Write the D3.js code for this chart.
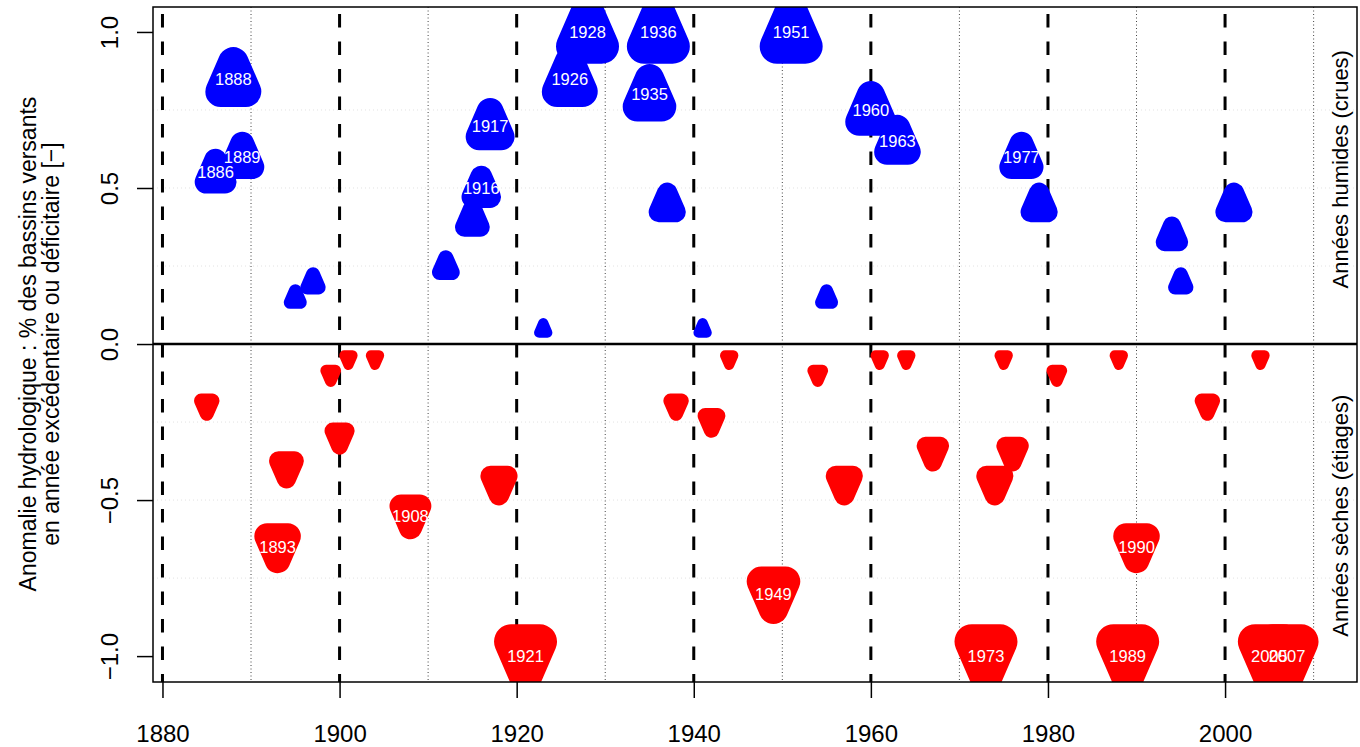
<!DOCTYPE html>
<html>
<head>
<meta charset="utf-8">
<script src="https://cdn.jsdelivr.net/npm/d3@7.9.0/dist/d3.min.js"></script>
<style>
    html, body { margin: 0; padding: 0; background: #fff; }
    svg { display: block; font-family: "Liberation Sans", Arial, sans-serif; }
</style>
</head>
<body>
<div id="chart"></div>
<script>
// wet years (floods) and dry years (low flows), share of catchments
const wetYears = [1886, 1888, 1889, 1895, 1897, 1912, 1915, 1916, 1917, 1923, 1926, 1928, 1935, 1936, 1937,
    1941, 1951, 1955, 1960, 1963, 1977, 1979, 1994, 1995, 2001];
const wetValues = [0.55, 0.85, 0.6, 0.15, 0.2, 0.25, 0.4, 0.5, 0.7, 0.05, 0.85, 1.0, 0.8, 1.0, 0.45,
    0.05, 1.0, 0.15, 0.75, 0.65, 0.6, 0.45, 0.35, 0.2, 0.45];
const dryYears = [1885, 1893, 1894, 1899, 1900, 1901, 1904, 1908, 1918, 1921, 1938, 1942, 1944, 1949, 1954,
    1957, 1961, 1964, 1967, 1973, 1974, 1975, 1976, 1981, 1988, 1989, 1990, 1998, 2004, 2005, 2007];
const dryValues = [-0.2, -0.65, -0.4, -0.1, -0.3, -0.05, -0.05, -0.55, -0.45, -1.0, -0.2, -0.25, -0.05, -0.8, -0.1,
    -0.45, -0.05, -0.05, -0.35, -1.0, -0.45, -0.05, -0.35, -0.1, -0.05, -1.0, -0.65, -0.2, -0.05, -1.0, -1.0];

const majorYears = [1880, 1900, 1920, 1940, 1960, 1980, 2000];
const minorYears = [1890, 1910, 1930, 1950, 1970, 1990, 2010];
const yTicks = [-1, -0.5, 0, 0.5, 1];
const gridLevels = [-0.75, -0.5, -0.25, 0.25, 0.5, 0.75];

const width = 1360, height = 747;
const margin = { top: 7, right: 3, bottom: 65, left: 153 };
const labelLimit = 0.5;

const svg = d3.select("#chart").append("svg")
    .attr("width", width)
    .attr("height", height);

const x = d3.scaleLinear().domain([1878.93, 2014.9]).range([margin.left, width - margin.right]);
const y = d3.scaleLinear().domain([-1.083, 1.08]).range([height - margin.bottom, margin.top]);
const size = d3.scaleLinear().domain([0, 1]).range([16, 63]);

svg.append("clipPath").attr("id", "plot-clip")
    .append("rect")
    .attr("x", margin.left).attr("y", margin.top)
    .attr("width", width - margin.left - margin.right)
    .attr("height", height - margin.top - margin.bottom);

const plot = svg.append("g").attr("clip-path", "url(#plot-clip)");

// faint horizontal grid
plot.selectAll(".hgrid")
    .data(gridLevels)
    .join("line")
    .attr("class", "hgrid")
    .attr("x1", margin.left).attr("x2", width - margin.right)
    .attr("y1", d => y(d)).attr("y2", d => y(d))
    .attr("stroke", "#e2e2e2")
    .attr("stroke-width", 1)
    .attr("stroke-dasharray", "1,3");

// decades
plot.selectAll(".minor")
    .data(minorYears)
    .join("line")
    .attr("class", "minor")
    .attr("x1", d => x(d)).attr("x2", d => x(d))
    .attr("y1", margin.top).attr("y2", height - margin.bottom)
    .attr("stroke", "#444")
    .attr("stroke-width", 1)
    .attr("stroke-dasharray", "1,2.5");

plot.selectAll(".major")
    .data(majorYears)
    .join("line")
    .attr("class", "major")
    .attr("x1", d => x(d)).attr("x2", d => x(d))
    .attr("y1", margin.top).attr("y2", height - margin.bottom)
    .attr("stroke", "#000")
    .attr("stroke-width", 3)
    .attr("stroke-dasharray", "13.5,14")
    .attr("stroke-dashoffset", -7);

plot.append("line")
    .attr("x1", margin.left).attr("x2", width - margin.right)
    .attr("y1", y(0)).attr("y2", y(0))
    .attr("stroke", "#000")
    .attr("stroke-width", 2.5);

// rounded triangle, dir -1 points up, +1 points down
function triangle(s, dir) {
    const a = 0.45 * s, h = 0.52 * s, off = 0.03 * s;
    const apex = dir * (h / 2 + off);
    const base = dir * (off - h / 2);
    return "M0," + apex + "L" + (a / 2) + "," + base + "L" + (-a / 2) + "," + base + "Z";
}

const wet = wetYears.map((yr, i) => ({ year: yr, value: wetValues[i], dir: -1, color: "#0000ff" }));
const dry = dryYears.map((yr, i) => ({ year: yr, value: dryValues[i], dir: 1, color: "#ff0000" }));
const points = wet.concat(dry);

plot.selectAll(".marker")
    .data(points)
    .join("path")
    .attr("class", "marker")
    .attr("transform", d => "translate(" + x(d.year) + "," + y(d.value) + ")")
    .attr("d", d => triangle(size(Math.abs(d.value)), d.dir))
    .attr("fill", d => d.color)
    .attr("stroke", d => d.color)
    .attr("stroke-width", d => 0.55 * size(Math.abs(d.value)))
    .attr("stroke-linejoin", "round");

plot.selectAll(".year-label")
    .data(points.filter(d => Math.abs(d.value) >= labelLimit))
    .join("text")
    .attr("class", "year-label")
    .attr("x", d => x(d.year))
    .attr("y", d => y(d.value))
    .attr("text-anchor", "middle")
    .attr("dominant-baseline", "central")
    .attr("fill", "#fff")
    .style("font-size", "16.5px")
    .text(d => d.year);

// box
svg.append("rect")
    .attr("x", margin.left).attr("y", margin.top)
    .attr("width", width - margin.left - margin.right)
    .attr("height", height - margin.top - margin.bottom)
    .attr("fill", "none")
    .attr("stroke", "#000")
    .attr("stroke-width", 1.5);

const xAxis = svg.append("g")
    .attr("transform", "translate(0," + (height - margin.bottom) + ")")
    .call(d3.axisBottom(x).tickValues(majorYears).tickSize(16).tickFormat(d3.format("d")));
xAxis.select(".domain").remove();
xAxis.selectAll("line").attr("stroke-width", 1.5);
xAxis.selectAll("text")
    .attr("y", 60)
    .attr("dy", 0)
    .attr("fill", "#000")
    .style("font-size", "24px")
    .style("font-family", "'Liberation Sans', Arial, sans-serif");

const yAxis = svg.append("g")
    .attr("transform", "translate(" + margin.left + ",0)")
    .call(d3.axisLeft(y).tickValues(yTicks).tickSize(16).tickFormat(d3.format(".1f")));
yAxis.select(".domain").remove();
yAxis.selectAll("line").attr("stroke-width", 1.5);
yAxis.selectAll("text")
    .attr("x", 0)
    .attr("dy", 0)
    .attr("transform", "translate(-35,0) rotate(-90)")
    .attr("text-anchor", "middle")
    .attr("fill", "#000")
    .style("font-size", "24px")
    .style("font-family", "'Liberation Sans', Arial, sans-serif");

// axis title, two lines
const titleLines = ["Anomalie hydrologique : % des bassins versants", "en année excédentaire ou déficitaire [\u2212]"];
svg.selectAll(".ytitle")
    .data(titleLines)
    .join("text")
    .attr("class", "ytitle")
    .attr("transform", (d, i) => "translate(" + (36 + i * 23) + "," + y(0) + ") rotate(-90)")
    .attr("text-anchor", "middle")
    .style("font-size", "23px")
    .text(d => d);

svg.append("text")
    .attr("transform", "translate(1348," + y(0.56) + ") rotate(-90)")
    .attr("text-anchor", "middle")
    .style("font-size", "22px")
    .text("Années humides (crues)");

svg.append("text")
    .attr("transform", "translate(1348," + y(-0.55) + ") rotate(-90)")
    .attr("text-anchor", "middle")
    .style("font-size", "22px")
    .text("Années sèches (étiages)");
</script>
</body>
</html>
